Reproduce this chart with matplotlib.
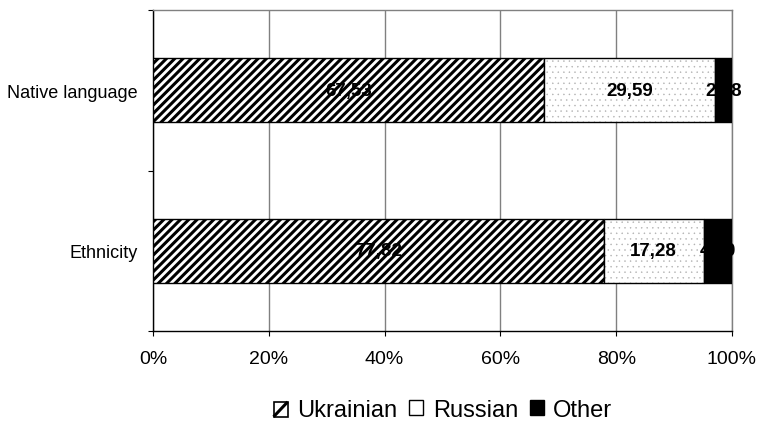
import matplotlib
matplotlib.use("Agg")
import matplotlib.pyplot as plt
from matplotlib.patches import Patch, Rectangle
from matplotlib.lines import Line2D
from matplotlib.legend_handler import HandlerBase

plt.rcParams['font.family'] = ['Liberation Sans', 'DejaVu Sans']

# donnees (en %)
categories = ['Ethnicity', 'Native language']
series = ['Ukrainian', 'Russian', 'Other']
ukrainian = [77.82, 67.53]
russian = [17.28, 29.59]
other = [4.90, 2.88]
xticks = [0, 20, 40, 60, 80, 100]

fig = plt.figure(figsize=(7.57, 4.27), dpi=100)
ax = fig.add_axes([153/757, 1 - 332/427, (732-153)/757, (332-11)/427])

pos = list(range(len(categories)))
h = 0.4
left_ru = ukrainian
left_ot = [u + r for u, r in zip(ukrainian, russian)]

# Ukrainian : hachures
with plt.rc_context({'hatch.linewidth': 2.2}):
    b_ua = ax.barh(pos, ukrainian, height=h, color='white', edgecolor='black',
                   linewidth=1, hatch='////', zorder=3)
# Russian : points gris + contour noir
with plt.rc_context({'hatch.linewidth': 0.3}):
    b_ru = ax.barh(pos, russian, height=h, left=left_ru, color='white', edgecolor='#b0b0b0',
                   linewidth=0, hatch='...', zorder=3)
ax.barh(pos, russian, height=h, left=left_ru, fill=False, edgecolor='black', linewidth=1, zorder=4)
# Other : noir
b_ot = ax.barh(pos, other, height=h, left=left_ot, color='black', edgecolor='black',
               linewidth=1, zorder=3)

def fmt(vals):
    return [('%.2f' % v).replace('.', ',') for v in vals]

for cont, vals in [(b_ua, ukrainian), (b_ru, russian), (b_ot, other)]:
    ax.bar_label(cont, labels=fmt(vals), label_type='center', fontsize=13.5,
                 fontweight='bold', color='black', zorder=5)

ax.set_xlim(0, 100)
ax.set_ylim(-0.5, len(categories) - 0.5)
ax.set_xticks(xticks)
ax.set_xticklabels(['%d%%' % t for t in xticks], fontsize=14)
ax.xaxis.grid(True, color='#808080', linewidth=1)
ax.set_axisbelow(True)

ax.set_yticks([-0.5, 0.5, 1.5])
ax.set_yticklabels([])
ax.set_yticks(pos, minor=True)
ax.set_yticklabels(categories, minor=True, fontsize=13)
ax.tick_params(axis='y', which='minor', length=0, pad=11)
ax.tick_params(axis='y', which='major', length=3.6, direction='out', color='black')
ax.tick_params(axis='x', length=3.6, direction='out', pad=10, color='black')

ax.spines['left'].set_color('black')
ax.spines['bottom'].set_color('black')
ax.spines['top'].set_color('#808080')
ax.spines['right'].set_color('#808080')
for s in ax.spines.values():
    s.set_linewidth(1)


# carre de legende avec une diagonale (comme Excel)
class DiagBox(HandlerBase):
    def create_artists(self, legend, orig, xd, yd, w, hh, fs, trans):
        r = Rectangle((xd, yd), w, hh, facecolor='white', edgecolor='black',
                      linewidth=1.2, transform=trans)
        l = Line2D([xd, xd + w], [yd, yd + hh], color='black', linewidth=2.2,
                   solid_capstyle='butt', transform=trans)
        return [r, l]


p_ua = Patch(facecolor='white', edgecolor='black', label='Ukrainian')
handles = [p_ua,
           Patch(facecolor='white', edgecolor='black', label='Russian'),
           Patch(facecolor='black', edgecolor='black', label='Other')]
fig.legend(handles=handles, loc='center', bbox_to_anchor=(443/757, 1 - 411/427), ncol=3,
           frameon=False, fontsize=17, handlelength=0.6, handleheight=0.6,
           handletextpad=0.4, columnspacing=0.5, handler_map={p_ua: DiagBox()})

fig.savefig('out.png', dpi=100)
